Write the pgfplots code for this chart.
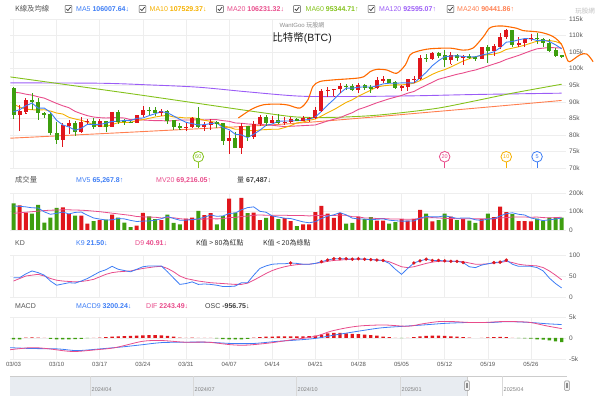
\documentclass[border=0pt]{standalone}
\usepackage{fontspec}
\setmainfont{Liberation Sans}
\newfontfamily\cjk{Noto Sans CJK TC}
\usepackage{pgfplots}
\usepackage{pgfplotstable}
\pgfplotsset{compat=1.18}
\newcommand\fs[1]{\fontsize{#1}{#1}\selectfont}
\definecolor{cred}{HTML}{E0161C}
\definecolor{cgreen}{HTML}{3E9E0F}
\definecolor{cma5}{HTML}{3D7DF5}
\definecolor{cma10}{HTML}{F5B000}
\definecolor{cma20}{HTML}{E84C8B}
\definecolor{cma60}{HTML}{84C21C}
\definecolor{cma120}{HTML}{9B5CF6}
\definecolor{cma240}{HTML}{FF7F50}
\definecolor{cenv}{HTML}{FF6A00}
\definecolor{gridc}{HTML}{EEEEEE}
\definecolor{tickc}{HTML}{555555}
\definecolor{labc}{HTML}{555555}
\definecolor{navc}{HTML}{E8ECF1}

\pgfplotsset{
  panel/.style={
    scale only axis, width=556pt, anchor=south west,
    xmin=-0.57, xmax=89.7,
    axis line style={draw=none}, major tick length=0pt,
    xtick={0,7,...,84}, xticklabels={},
    xmajorgrids, ymajorgrids,
    major grid style={draw=gridc, line width=0.5pt},
    yticklabel pos=right,
    yticklabel style={font=\fs{6.5}, text=tickc, anchor=west, inner sep=1pt, xshift=2pt},
  }
}

% up (red) candles: day open high low close volume
\pgfplotstableread{
d o h l c v
1 86.1 88.9 81.5 87.2 133
2 87.2 91.0 86.4 90.6 94
8 78.5 83.6 76.6 82.9 122
9 82.9 84.4 80.6 83.7 86
11 81.1 85.3 80.8 84.0 78
12 84.0 84.7 83.6 84.1 35
14 82.6 84.7 82.5 84.1 54
16 82.7 87.0 82.6 86.9 83
20 83.8 86.1 83.8 86.1 24
21 86.1 88.8 85.5 87.5 93
24 86.9 87.8 85.8 87.2 54
28 82.3 83.9 81.3 82.5 62
29 82.5 85.5 82.4 85.2 67
31 82.5 83.9 81.3 83.1 80
32 83.1 84.7 81.7 83.8 91
35 78.2 81.1 74.4 79.2 170
37 76.3 83.5 74.6 82.6 174
39 79.6 84.2 78.9 83.4 94
40 83.4 85.9 82.8 85.3 54
42 83.7 85.8 83.7 84.5 75
44 83.7 85.4 83.1 84.0 64
45 84.0 85.4 83.7 84.9 48
47 84.5 85.6 84.4 85.1 30
48 85.1 85.3 84.0 85.2 30
49 85.2 88.5 85.1 87.5 96
50 87.5 93.8 87.1 93.4 131
51 93.4 94.5 91.8 93.7 88
52 93.7 94.0 91.7 93.9 66
53 94.0 95.8 92.9 94.7 91
56 93.8 95.6 92.9 95.0 72
59 94.2 97.4 94.1 96.5 50
60 96.5 97.9 96.0 96.9 51
63 94.3 95.2 93.6 94.7 59
64 94.7 96.9 93.4 96.8 51
65 96.8 97.7 95.9 97.0 59
66 97.0 104.0 96.9 103.2 109
68 103.0 105.0 102.8 104.7 46
71 102.8 105.0 101.4 104.2 72
73 103.5 104.2 101.4 103.7 59
76 103.2 106.6 103.1 106.4 59
78 105.6 107.3 104.2 106.8 70
79 106.8 110.7 106.1 109.7 126
80 109.7 112.0 109.3 111.7 96
82 107.3 109.5 106.9 107.8 48
83 107.8 109.3 106.7 109.0 48
84 109.0 110.4 108.7 109.4 46
}\upc

% down (green) candles
\pgfplotstableread{
d o h l c v
0 94.2 94.4 85.1 86.1 144
3 90.6 92.8 87.9 90.0 88
4 90.0 91.2 84.7 86.7 136
5 86.7 86.8 85.2 86.2 40
6 86.2 86.5 80.1 80.6 67
7 80.6 84.0 77.4 78.5 120
10 83.7 84.3 79.9 81.1 78
13 84.1 85.1 82.0 82.6 48
15 84.1 84.1 81.2 82.7 56
17 86.9 87.4 83.6 84.2 67
18 84.2 84.8 83.2 84.0 40
19 84.0 84.5 83.7 83.8 16
22 87.5 88.5 86.3 87.45 74
23 87.5 88.3 85.9 86.9 59
25 87.2 87.5 83.6 84.4 83
26 84.4 84.6 81.6 82.6 38
27 82.6 83.5 81.6 82.3 30
30 85.2 88.5 82.3 82.5 104
33 83.8 84.2 82.4 83.5 30
34 83.5 83.7 77.2 78.2 75
36 79.2 80.8 76.2 76.3 94
38 82.6 82.7 78.5 79.6 91
41 85.3 86.0 83.0 83.7 66
43 84.5 86.4 83.6 83.7 59
46 84.9 85.1 84.3 84.5 21
54 94.7 95.3 93.9 94.6 35
55 94.7 95.4 93.5 93.8 38
57 95.0 95.5 93.7 94.3 59
58 94.3 95.2 92.9 94.2 70
61 96.9 96.9 95.8 95.9 35
62 95.9 96.3 94.2 94.3 43
67 103.2 104.3 102.3 103.0 88
69 104.7 104.9 103.4 104.1 54
70 104.1 105.7 100.8 102.8 88
72 104.2 104.3 102.6 103.5 54
74 103.7 104.5 103.1 103.5 51
75 103.5 103.7 102.6 103.2 38
77 106.4 107.1 102.1 105.6 88
81 111.7 111.8 106.8 107.3 86
85 109.4 110.7 107.6 109.0 62
86 109.0 109.3 106.8 107.8 51
87 107.8 108.9 105.4 105.6 67
88 105.6 106.3 103.7 104.0 67
89 104.0 104.2 103.4 103.6 67
}\dnc

\pgfplotstableread{
d m5 m10 m20 mv5 mv20 k dd osc
0 87.0 89.3 92.9 130 90 46 38 -0.30
1 87.6 88.4 92.7 128 93 46 44 -0.30
2 88.8 87.8 92.3 125 96 55 50 0.10
3 89.6 87.6 92.0 120 99 62 52 0.15
4 88.1 87.5 91.5 119 102 58 54 0.10
5 88.1 87.6 91.1 98 105 52 50 0.03
6 86.8 87.2 90.3 85 107 38 44 -0.20
7 84.4 86.6 89.5 90 108 28 40 -0.30
8 83.0 86.3 88.8 97 109 31 38 -0.30
9 82.4 85.3 88.2 87 109 34 37 -0.30
10 81.4 84.8 87.1 95 108 33 36 -0.25
11 82.0 84.4 86.4 97 107 38 37 -0.20
12 83.2 83.8 85.8 80 105 44 39 -0.05
13 83.1 83.1 85.4 65 102 52 42 0.05
14 83.2 82.8 85.2 59 99 60 48 0.10
15 83.5 82.5 85.1 54 95 65 54 0.20
16 84.1 83.1 85.2 55 91 73 58 0.35
17 84.1 83.7 85.2 62 87 66 60 0.40
18 84.4 83.8 85.1 60 83 63 61 0.45
19 84.3 83.8 84.6 52 79 60 62 0.50
20 85.0 84.3 84.6 46 73 66 65 0.55
21 85.1 84.6 84.5 48 71 72 68 0.65
22 85.8 85.0 84.4 49 70 74 70 0.70
23 86.4 85.4 84.3 53 69 74 72 0.70
24 87.0 85.7 84.3 61 65 74 73 0.65
25 86.7 85.9 84.2 73 67 60 68 0.50
26 85.7 85.4 84.3 62 66 45 60 0.30
27 84.7 85.3 84.5 53 61 30 50 0.10
28 83.8 85.1 84.5 53 58 32 44 0.05
29 83.4 85.2 84.5 56 57 36 41 0.10
30 83.0 84.9 84.6 60 58 30 38 0.05
31 83.1 84.4 84.5 69 59 31 36 0.05
32 83.4 84.1 84.6 81 61 30 34 0.02
33 83.6 83.7 84.6 74 60 28 33 -0.10
34 82.2 82.8 84.3 76 61 25 32 -0.25
35 81.6 82.3 84.1 89 67 25 31 -0.35
36 80.2 81.7 83.6 92 68 26 30 -0.35
37 80.0 81.7 83.5 109 73 34 30 -0.30
38 79.2 81.4 83.3 121 75 34 33 -0.20
39 80.2 81.2 83.2 125 80 52 40 0.10
40 81.4 81.5 83.2 101 81 68 48 0.20
41 82.9 81.6 83.0 96 80 74 56 0.30
42 83.3 81.7 82.9 76 80 78 63 0.35
43 84.1 81.7 82.7 70 80 79 68 0.40
44 84.2 82.2 82.5 64 80 79 72 0.40
45 84.2 82.8 82.6 62 78 81 75 0.40
46 84.3 83.6 82.7 53 78 80 77 0.40
47 84.4 83.9 82.8 44 78 78 78 0.40
48 84.7 84.4 82.9 39 76 78 78 0.45
49 85.4 84.8 83.0 45 78 80 80 0.55
50 87.1 85.7 83.6 62 79 84 82 0.80
51 89.0 86.7 84.2 75 79 88 85 1.10
52 90.7 87.6 84.7 82 78 91 87 1.20
53 92.6 88.7 85.2 94 81 91 88 1.20
54 94.1 89.8 86.0 82 79 91 89 1.10
55 94.1 90.6 86.7 64 72 90 90 1.00
56 94.4 91.7 87.7 60 71 91 90 0.90
57 94.5 92.6 88.3 59 65 90 90 0.80
58 94.4 93.5 89.0 55 65 89 89 0.70
59 94.8 94.5 89.7 58 62 88 88 0.55
60 95.4 94.8 90.3 60 62 87 87 0.35
61 95.6 95.0 90.9 53 60 80 84 0.20
62 95.6 95.1 91.4 50 59 66 78 0.05
63 95.7 95.1 91.9 48 59 54 72 -0.05
64 95.7 95.3 92.6 48 58 68 70 0.05
65 95.7 95.6 93.1 49 59 81 72 0.20
66 97.2 96.4 94.1 64 63 86 76 0.40
67 98.9 97.3 95.0 73 66 90 80 0.50
68 100.9 98.3 95.9 71 67 87 83 0.55
69 102.4 99.1 96.8 71 65 87 85 0.55
70 103.6 99.7 97.3 77 63 86 85 0.50
71 103.8 100.5 97.8 70 62 85 85 0.40
72 103.9 101.4 98.3 63 61 85 85 0.30
73 103.7 102.3 98.7 65 60 82 84 0.20
74 103.5 103.0 99.2 65 61 72 81 0.10
75 103.6 103.6 99.6 55 60 70 78 0.00
76 104.1 104.0 100.2 52 60 76 78 0.05
77 104.5 104.2 100.8 59 61 79 79 0.15
78 105.1 104.4 101.4 61 61 82 81 0.20
79 106.3 104.9 102.0 76 65 83 82 0.25
80 108.0 105.8 102.8 88 67 88 85 0.20
81 108.2 106.2 103.4 93 70 78 82 0.05
82 108.7 106.6 104.0 85 70 73 78 -0.05
83 109.1 107.1 104.7 81 70 73 76 -0.10
84 109.0 107.7 105.4 65 69 73 75 -0.15
85 108.5 108.3 106.0 58 70 70 74 -0.30
86 108.6 108.4 106.2 51 67 62 70 -0.40
87 108.2 108.5 106.4 55 66 45 62 -0.55
88 107.2 108.2 106.3 59 67 32 52 -0.80
89 106.0 107.5 106.2 65 69 21.5 40.9 -0.96
}\daily

\pgfplotstableread{
d v
-0.5 97.5
10 94.8
20 92.2
30 89.5
40 86.8
46 85.4
52 85.3
58 85.8
63 86.7
69 88.1
75 90.3
81 92.6
89 95.3
}\masixty

\pgfplotstableread{
d v
-0.5 95.7
14 95.6
22 95.1
30 94.4
38 93.0
46.5 91.7
55 91.6
65 91.8
75 92.2
89 92.6
}\maonetwenty

\pgfplotstableread{
d v
-0.5 79.0
22 81.1
45 83.4
69 87.1
89 90.4
}\matwoforty

\pgfplotstableread{
d v
36.5 85.1
38.7 87.8
40.6 89.1
43 89.3
44.6 89.0
46.5 88.1
47.8 90.6
48.6 94.6
49.7 96.1
51.9 96.6
55.6 97.1
56.9 97.6
57.9 99.1
59 99.8
60.6 99.6
62.2 98.6
63.6 101.1
64.4 104.2
65.5 105.2
67.6 106.0
70.9 106.2
73 105.6
74.6 106.2
76.3 109.7
77.4 112.4
79.3 112.9
81.7 112.2
82.7 111.5
85.5 111.0
87.6 109.7
89.0 107.2
89.8 103.2
90.3 102.1
92 104.2
93.1 104.4
94.1 102.1
}\envelope

\pgfplotstableread{
d v
-0.6 -2.8
2.8 -2.3
5.3 -2.5
8.5 -3.1
10.3 -3.2
13.4 -2.8
16.5 -2.3
20.9 -0.8
24 -0.6
27.8 -1.0
31.5 -1.0
35.3 -1.6
37.8 -1.7
41.5 -1.2
45.3 -0.4
49 0.4
51.5 1.6
54 2.4
56.5 2.9
60.2 3.1
64 2.8
66.5 3.4
69 3.9
71.5 3.9
74 3.7
76.5 3.7
79 3.9
81.5 3.9
83.9 3.7
86.5 2.9
89 2.24
}\dif

\pgfplotstableread{
d v
-0.6 -2.3
2.8 -2.5
7.2 -2.6
10.3 -3.0
14 -2.6
17.8 -2.1
20.9 -1.6
24 -1.1
27.8 -1.0
31.5 -1.0
35.3 -1.3
39 -1.3
42.8 -0.8
45.9 -0.5
49 -0.1
52.1 0.7
55.9 1.6
59.6 2.4
63.4 2.8
66.5 3.1
70.2 3.5
74 3.7
77.7 3.7
80.2 3.9
83.9 3.7
86.5 3.4
89 3.2
}\macdnine

\newcommand\chk[2]{%
  \draw[line width=0.5pt, draw=black!70, rounded corners=0.6pt, fill=white] (#1-3.4,#2-3.4) rectangle (#1+3.4,#2+3.4);
  \draw[line width=0.7pt, black!80] (#1-2.1,#2+0.1) -- (#1-0.6,#2-1.6) -- (#1+2.2,#2+2.0);}

\begin{document}
\begin{tikzpicture}[x=1pt,y=1pt]
\path[use as bounding box] (0,0) rectangle (600,396);

% ---------- header ----------
\node[anchor=base west, inner sep=0, font=\cjk\fs{7.3}, text=labc] at (15,384.5) {K線及均線};
\chk{68.5}{387}
\node[anchor=base west, inner sep=0, font=\fs{7}, text=cma5] at (76,384.5) {MA5 \textbf{106007.64}↓};
\chk{142.5}{387}
\node[anchor=base west, inner sep=0, font=\fs{7}, text=cma10] at (149.5,384.5) {MA10 \textbf{107529.37}↓};
\chk{220}{387}
\node[anchor=base west, inner sep=0, font=\fs{7}, text=cma20] at (227,384.5) {MA20 \textbf{106231.32}↓};
\chk{297}{387}
\node[anchor=base west, inner sep=0, font=\fs{7}, text=cma60] at (305.5,384.5) {MA60 \textbf{95344.71}↑};
\chk{371.5}{387}
\node[anchor=base west, inner sep=0, font=\fs{7}, text=cma120] at (379,384.5) {MA120 \textbf{92595.07}↑};
\chk{450.5}{387}
\node[anchor=base west, inner sep=0, font=\fs{7}, text=cma240] at (457,384.5) {MA240 \textbf{90441.86}↑};
\node[anchor=center, inner sep=0, font=\cjk\fs{6.5}, text=black!25] at (585,385) {玩股網};

% ---------- main price panel ----------
\begin{axis}[panel, at={(10pt,228pt)}, height=149pt, ymin=70, ymax=115, clip=false,
  ytick={70,75,...,115}, yticklabels={70k,75k,80k,85k,90k,95k,100k,105k,110k,115k}]
\addplot[cma240, line width=0.9pt, smooth] table[x=d,y=v]{\matwoforty};
\addplot[cma120, line width=0.9pt, smooth] table[x=d,y=v]{\maonetwenty};
\addplot[cma60, line width=0.9pt, smooth] table[x=d,y=v]{\masixty};
\addplot[cma20, line width=0.9pt] table[x=d,y=m20]{\daily};
\addplot[cma10, line width=0.9pt] table[x=d,y=m10]{\daily};
% wicks
\addplot[only marks, mark=-, mark size=0.3pt, color=cred,
  error bars/.cd, y dir=plus, y explicit, error mark=none,
  error bar style={line width=0.7pt, draw=cred}]
  table[x=d, y=l, y error plus expr=\thisrow{h}-\thisrow{l}]{\upc};
\addplot[only marks, mark=-, mark size=0.3pt, color=cgreen,
  error bars/.cd, y dir=plus, y explicit, error mark=none,
  error bar style={line width=0.7pt, draw=cgreen}]
  table[x=d, y=l, y error plus expr=\thisrow{h}-\thisrow{l}]{\dnc};
% bodies
\addplot[only marks, mark=-, mark size=2pt, mark options={line width=0.8pt}, color=cred,
  error bars/.cd, y dir=plus, y explicit, error mark=none,
  error bar style={line width=4pt, draw=cred}]
  table[x=d, y=o, y error plus expr=\thisrow{c}-\thisrow{o}]{\upc};
\addplot[only marks, mark=-, mark size=2pt, mark options={line width=0.8pt}, color=cgreen,
  error bars/.cd, y dir=plus, y explicit, error mark=none,
  error bar style={line width=4pt, draw=cgreen}]
  table[x=d, y=c, y error plus expr=\thisrow{o}-\thisrow{c}]{\dnc};
\addplot[cma5, line width=0.9pt] table[x=d,y=m5]{\daily};
\addplot[cenv, line width=1.1pt, smooth, tension=0.5] table[x=d,y=v]{\envelope};
% window markers
\addplot[cma60, line width=0.8pt] coordinates {(30,70) (30,71.7)};
\addplot[cma20, line width=0.8pt] coordinates {(70,70) (70,71.7)};
\addplot[cma10, line width=0.8pt] coordinates {(80,70) (80,71.7)};
\addplot[cma5, line width=0.8pt] coordinates {(85,70) (85,71.7)};
\addplot[only marks, mark=*, mark size=5.3pt, mark options={draw=cma60, fill=white, line width=0.8pt},
  nodes near coords, point meta=explicit symbolic,
  every node near coord/.append style={anchor=center, font=\fs{5.5}, text=cma60}] coordinates {(30,73.4)[60]};
\addplot[only marks, mark=*, mark size=5.3pt, mark options={draw=cma20, fill=white, line width=0.8pt},
  nodes near coords, point meta=explicit symbolic,
  every node near coord/.append style={anchor=center, font=\fs{5.5}, text=cma20}] coordinates {(70,73.4)[20]};
\addplot[only marks, mark=*, mark size=5.3pt, mark options={draw=cma10, fill=white, line width=0.8pt},
  nodes near coords, point meta=explicit symbolic,
  every node near coord/.append style={anchor=center, font=\fs{5.5}, text=cma10}] coordinates {(80,73.4)[10]};
\addplot[only marks, mark=*, mark size=5.3pt, mark options={draw=cma5, fill=white, line width=0.8pt},
  nodes near coords, point meta=explicit symbolic,
  every node near coord/.append style={anchor=center, font=\fs{5.5}, text=cma5}] coordinates {(85,73.4)[5]};
\end{axis}

\node[anchor=center, inner sep=0, font=\fs{6}, text=black!45] at (302,371) {WantGoo {\cjk 玩股網}};
\node[anchor=center, inner sep=0, font=\fs{10.5}, text=black!90] at (302,358) {{\cjk 比特幣}(BTC)};

% ---------- volume ----------
\node[anchor=base west, inner sep=0, font=\cjk\fs{7.3}, text=labc] at (15,213) {成交量};
\node[anchor=base west, inner sep=0, font=\fs{7}, text=cma5] at (76,213) {MV5 \textbf{65,267.8}↑};
\node[anchor=base west, inner sep=0, font=\fs{7}, text=cma20] at (156,213) {MV20 \textbf{69,216.05}↑};
\node[anchor=base west, inner sep=0, font=\fs{7}, text=black!75] at (237,213) {{\cjk 量} \textbf{67,487}↓};
\begin{axis}[panel, at={(10pt,166pt)}, height=37pt, ymin=0, ymax=200,
  ytick={0,100,200}, yticklabels={0,100k,200k}]
\addplot[ybar, bar width=4pt, bar shift=0pt, fill=cred, draw=none] table[x=d,y=v]{\upc};
\addplot[ybar, bar width=4pt, bar shift=0pt, fill=cgreen, draw=none] table[x=d,y=v]{\dnc};
\addplot[cma20, line width=0.8pt] table[x=d,y=mv20]{\daily};
\addplot[cma5, line width=0.8pt] table[x=d,y=mv5]{\daily};
\end{axis}

% ---------- KD ----------
\node[anchor=base west, inner sep=0, font=\fs{7}, text=labc] at (15,150) {KD};
\node[anchor=base west, inner sep=0, font=\fs{7}, text=cma5] at (76,150) {K9 \textbf{21.50}↓};
\node[anchor=base west, inner sep=0, font=\fs{7}, text=cma20] at (135,150) {D9 \textbf{40.91}↓};
\node[anchor=base west, inner sep=0, font=\cjk\fs{7}, text=black!80] at (196,150) {K值 > 80為紅點};
\node[anchor=base west, inner sep=0, font=\cjk\fs{7}, text=black!80] at (263,150) {K值 < 20為綠點};
\begin{axis}[panel, at={(10pt,99pt)}, height=42pt, ymin=0, ymax=100,
  ytick={0,50,100}, yticklabels={0,50,100}]
\addplot[cma20, line width=0.8pt] table[x=d,y=dd]{\daily};
\addplot[cma5, line width=0.8pt] table[x=d,y=k]{\daily};
\addplot[only marks, mark=*, mark size=1.5pt, cred, y filter/.expression={y>80 ? y : nan}] table[x=d,y=k]{\daily};
\end{axis}

% ---------- MACD ----------
\node[anchor=base west, inner sep=0, font=\fs{7}, text=labc] at (15,87) {MACD};
\node[anchor=base west, inner sep=0, font=\fs{7}, text=cma5] at (76,87) {MACD9 \textbf{3200.24}↓};
\node[anchor=base west, inner sep=0, font=\fs{7}, text=cma20] at (146,87) {DIF \textbf{2243.49}↓};
\node[anchor=base west, inner sep=0, font=\fs{7}, text=black!75] at (205,87) {OSC \textbf{-956.75}↓};
\begin{axis}[panel, at={(10pt,37pt)}, height=42pt, ymin=-5, ymax=5,
  ytick={-5,0,5}, yticklabels={-5k,0,5k},
  xticklabels={03/03,03/10,03/17,03/24,03/31,04/07,04/14,04/21,04/28,05/05,05/12,05/19,05/26},
  xticklabel style={font=\fs{6}, text=tickc, inner sep=1pt, yshift=-1.5pt}]
\addplot[ybar, bar width=3.4pt, bar shift=0pt, fill=cred, draw=none, y filter/.expression={y>0 ? y : nan}] table[x=d,y=osc]{\daily};
\addplot[ybar, bar width=3.4pt, bar shift=0pt, fill=cgreen, draw=none, y filter/.expression={y<0 ? y : nan}] table[x=d,y=osc]{\daily};
\addplot[cma5, line width=0.8pt, smooth] table[x=d,y=v]{\macdnine};
\addplot[cma20, line width=0.8pt, smooth] table[x=d,y=v]{\dif};
\end{axis}

% ---------- navigator ----------
\fill[navc] (10,0) rectangle (467,20);
\draw[black!20, line width=0.5pt] (10,20) -- (567,20);
\draw[black!20, line width=0.5pt] (467,0) -- (467,20);
\foreach \xx/\lab in {90/2024\slash 04,193/2024\slash 07,296/2024\slash 10,400/2025\slash 01,502/2025\slash 04}{
  \draw[black!15, line width=0.5pt] (\xx,0) -- (\xx,20);
  \node[anchor=base west, inner sep=0, font=\fs{5.5}, text=black!50] at (\xx+1.5,4) {\lab};
}
\foreach \xx in {467,567}{
  \draw[black!45, fill=black!5, line width=0.5pt, rounded corners=0.8pt] (\xx-2.3,5.5) rectangle (\xx+2.3,15);
  \draw[black!45, line width=0.4pt] (\xx-0.6,8) -- (\xx-0.6,12.5) (\xx+0.6,8) -- (\xx+0.6,12.5);
}
\end{tikzpicture}
\end{document}
